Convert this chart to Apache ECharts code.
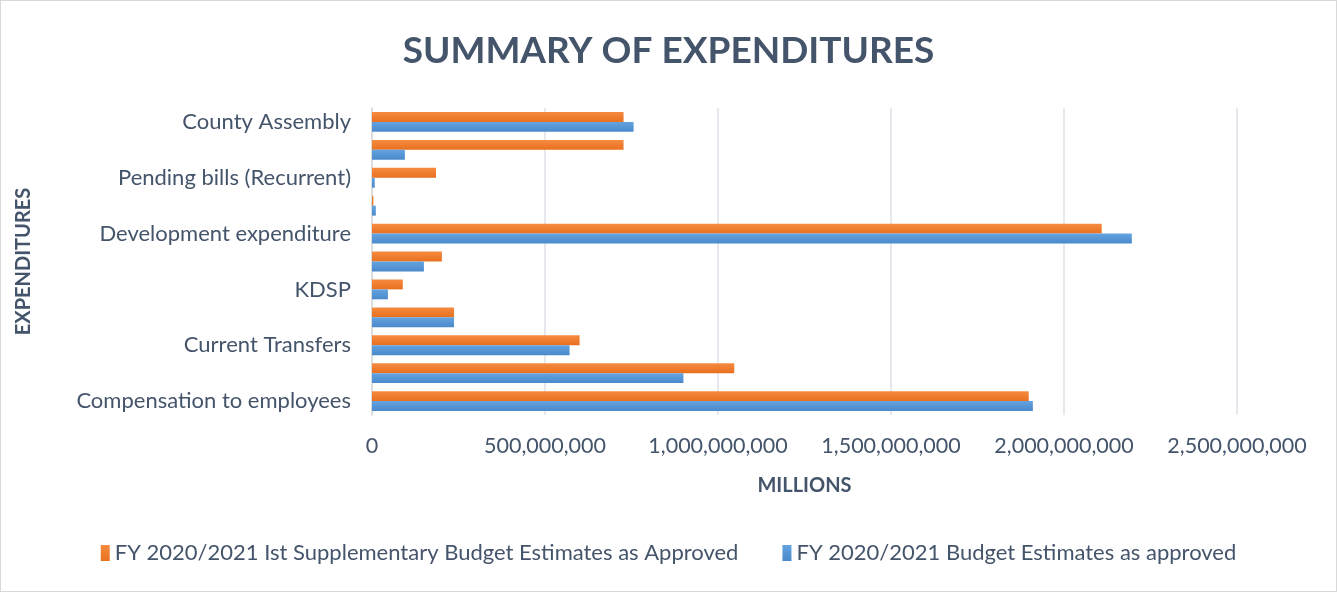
<!DOCTYPE html>
<html>
<head>
<meta charset="utf-8">
<script src="https://cdn.jsdelivr.net/npm/echarts@6/dist/echarts.min.js"></script>
<style>
html,body{margin:0;padding:0;background:#fff;}
#c{width:1335px;height:590px;border:1px solid #D9D9D9;}
</style>
</head>
<body>
<div id="c"></div>
<script>
const categories = [
  "Compensation to employees",
  "Use of goods and services",
  "Current Transfers",
  "Other grants and transfers",
  "KDSP",
  "Emergency Fund",
  "Development expenditure",
  "Pending bills (Development)",
  "Pending bills (Recurrent)",
  "Other expenditure",
  "County Assembly"
];
const supplementary = [1898000000, 1047000000, 600000000, 237000000, 89000000, 202000000, 2109000000, 4000000, 185000000, 727000000, 727000000];
const original = [1910000000, 900000000, 571000000, 237000000, 46000000, 150000000, 2196000000, 11000000, 8000000, 95000000, 756000000];
const xTicks = [0, 500000000, 1000000000, 1500000000, 2000000000, 2500000000];
const seriesNames = ["FY 2020/2021 Ist Supplementary Budget Estimates as Approved", "FY 2020/2021 Budget Estimates as approved"];

const FONT = "Lato";
const TXT = "#44546A";
const chart = echarts.init(document.getElementById('c'));
function grad(top, bottom){
  return new echarts.graphic.LinearGradient(0,0,0,1,[{offset:0,color:top},{offset:1,color:bottom}]);
}
chart.setOption({
  animation:false,
  textStyle:{fontFamily:FONT},
  title:{text:"SUMMARY OF EXPENDITURES", left:'center', top:27,
    textStyle:{fontFamily:FONT,fontSize:37,fontWeight:'bold',color:TXT}},
  legend:{bottom:22, left:'center', itemWidth:9, itemHeight:16, itemGap:44, icon:'rect',
    textStyle:{fontFamily:FONT,fontSize:22,color:TXT},
    data:seriesNames},
  grid:{left:371, right:99, top:107, bottom:176},
  xAxis:{type:'value', min:xTicks[0], max:xTicks[xTicks.length-1], interval:xTicks[1]-xTicks[0],
    name:'MILLIONS', nameLocation:'middle', nameGap:61,
    nameTextStyle:{fontFamily:FONT,fontSize:20,fontWeight:'bold',color:TXT},
    axisLabel:{fontSize:21.5,color:TXT,margin:20,
      formatter:v=>v.toLocaleString('en-US')},
    axisLine:{show:false}, axisTick:{show:false},
    splitLine:{lineStyle:{color:'#DDE1E7',width:1.5}}},
  yAxis:{type:'category', data:categories,
    name:'EXPENDITURES', nameLocation:'middle', nameGap:338,
    nameTextStyle:{fontFamily:FONT,fontSize:20,fontWeight:'bold',color:TXT},
    axisLabel:{interval:1,fontSize:22,color:TXT,margin:21},
    axisLine:{lineStyle:{color:'#D9D9D9',width:1.5}}, axisTick:{show:false}},
  series:[
    {name:seriesNames[0], type:'bar', data:supplementary, barGap:'0%', barCategoryGap:'29%',
     itemStyle:{color:grad('#F68B40','#E8701F')}},
    {name:seriesNames[1], type:'bar', data:original, barGap:'0%', barCategoryGap:'29%',
     itemStyle:{color:grad('#64A3E0','#4A8ACB')}}
  ]
});
</script>
</body>
</html>
